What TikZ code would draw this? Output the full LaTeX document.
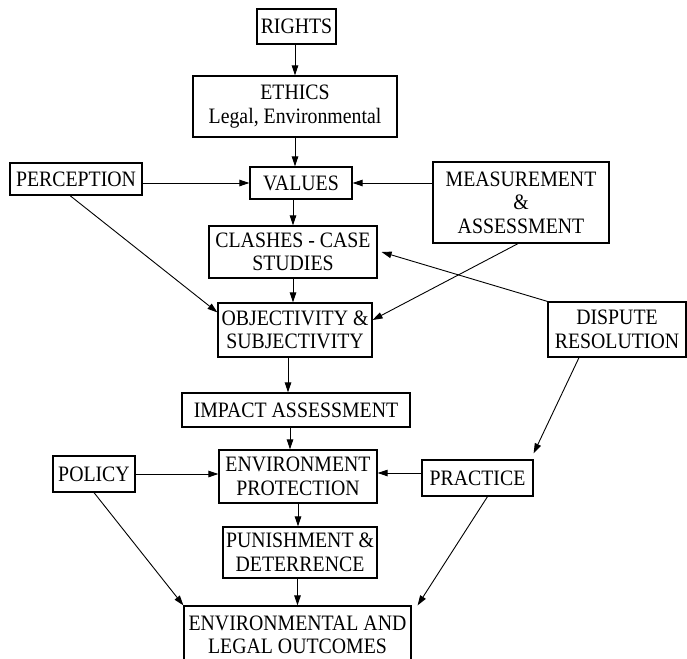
\documentclass[tikz,border=0pt]{standalone}
\usepackage{fontspec}
\setmainfont{Liberation Serif}[FakeStretch=0.9]
\usetikzlibrary{arrows.meta}

\begin{document}
\begin{tikzpicture}[x=1pt,y=-1pt,
  box/.style={draw,line width=1.2pt,align=center,inner sep=2pt,
    font=\fontsize{22}{23.5}\selectfont},
  arr/.style={line width=0.9pt,-{Stealth[inset=0pt,length=10pt,width=6.5pt]}}]
\useasboundingbox (0,0) rectangle (687,658);
% central column
\node[box,minimum width=79pt,minimum height=35pt] (rights) at (296.5,26.5) {RIGHTS};
\node[box,minimum width=204pt,minimum height=61pt] (ethics) at (295,106.5) {ETHICS\\Legal, Environmental};
\node[box,minimum width=102pt,minimum height=32pt] (values) at (301,183) {VALUES};
\node[box,minimum width=168pt,minimum height=52pt] (clashes) at (293,252) {CLASHES - CASE\\STUDIES};
\node[box,minimum width=154pt,minimum height=54pt] (obj) at (295,330) {OBJECTIVITY \&\\SUBJECTIVITY};
\node[box,minimum width=228pt,minimum height=34pt] (impact) at (296,410) {IMPACT ASSESSMENT};
\node[box,minimum width=158pt,minimum height=53pt] (env) at (298,476.5) {ENVIRONMENT\\PROTECTION};
\node[box,minimum width=154pt,minimum height=51pt] (pun) at (300,552.5) {PUNISHMENT \&\\DETERRENCE};
\node[box,minimum width=227pt,minimum height=58pt] (out) at (297.5,635) {ENVIRONMENTAL AND\\LEGAL OUTCOMES};
% side boxes
\node[box,minimum width=132pt,minimum height=32pt] (perception) at (76,179) {PERCEPTION};
\node[box,minimum width=176pt,minimum height=81pt] (meas) at (521,202.5) {MEASUREMENT\\\&\\ASSESSMENT};
\node[box,minimum width=138pt,minimum height=55pt] (dispute) at (617,329.5) {DISPUTE\\RESOLUTION};
\node[box,minimum width=82pt,minimum height=36pt] (policy) at (94,474) {POLICY};
\node[box,minimum width=111pt,minimum height=36pt] (practice) at (477.5,478) {PRACTICE};

% down the middle
\draw[arr] (rights.south -| ethics) -- (ethics.north);
\draw[arr] (ethics.south) -- (ethics.south |- values.north);
\draw[arr] (values.south -| clashes) -- (clashes.north);
\draw[arr] (clashes.south) -- (clashes.south |- obj.north);
\draw[arr] ([xshift=-7pt]obj.south) -- ([xshift=-7pt]obj.south |- impact.north);
\draw[arr] ([xshift=-6pt]impact.south) -- ([xshift=-6pt]impact.south |- env.north);
\draw[arr] (env.south) -- (env.south |- pun.north);
\draw[arr] (pun.south -| out) -- (out.north);

% from the sides
\draw[arr] (perception.east |- values) -- (values.west);
\draw[arr] ([xshift=-6pt]perception.south) -- ([yshift=-10pt]obj.north west);
\draw[arr] (meas.west |- values) -- (values.east);
\draw[arr] ([xshift=-3pt]meas.south) -- ([yshift=10pt]obj.east);
\draw[arr] (dispute.north west) -- ([xshift=4pt]clashes.east);
\draw[arr] ([xshift=-38pt]dispute.south) -- ([yshift=6pt]practice.north east);
\draw[arr] (policy.east) -- (policy.east -| env.west);
\draw[arr] ([yshift=5pt]practice.west) -- ([yshift=5pt]practice.west -| env.east);
\draw[arr] (policy.south) -- (out.north west);
\draw[arr] ([xshift=10pt]practice.south) -- ([xshift=6pt]out.north east);
\end{tikzpicture}
\end{document}
